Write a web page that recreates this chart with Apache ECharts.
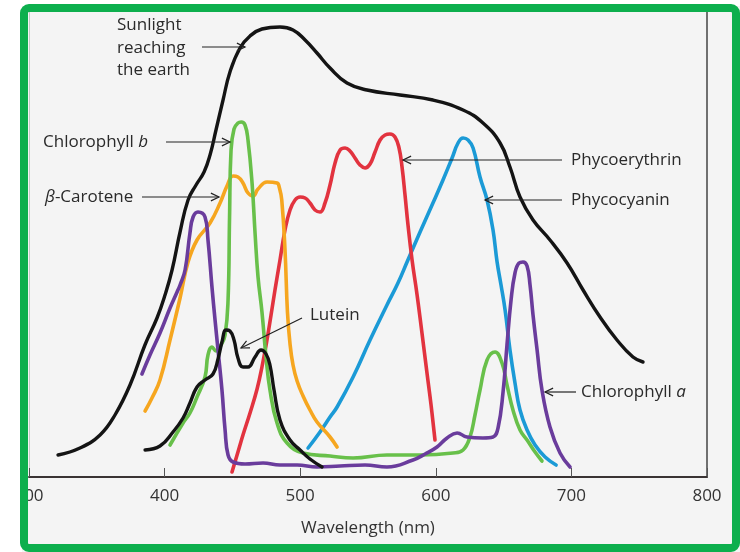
<!DOCTYPE html>
<html>
<head>
<meta charset="utf-8">
<script src="https://cdn.jsdelivr.net/npm/echarts@6/dist/echarts.min.js"></script>
<style>html,body{margin:0;padding:0;background:#fff}#c{width:740px;height:552px}</style>
</head>
<body>
<div id="c"></div>
<script>
// x: wavelength (nm); y: relative intensity / absorbance (arbitrary units)
const xTicks = [300, 400, 500, 600, 700, 800];

const sunlight = [[321.4,22],[337.6,29],[352.4,42],[363.4,62],[374.5,92],[385.5,132],[394.4,159],[400.3,182],[405.5,207],[411.4,245],[417.3,277],[423.2,292],[429.1,305],[433.5,322],[437.9,347],[443.1,377],[448.2,405],[455.6,429],[463.0,441],[471.8,448],[485.1,450],[494.7,447],[503.6,437],[512.4,424],[522.0,409],[534.5,394],[549.3,387],[573.6,382],[597.9,377],[620.1,367],[634.8,354],[647.4,334],[654.7,310],[662.1,280],[671.7,257],[684.2,237],[696.8,214],[708.6,187],[721.1,160],[733.6,137],[745.4,120],[752.8,115]];

const chlorophyllB = [[404.0,32],[413.6,54],[418.7,64],[423.9,80],[429.8,100],[432.0,122],[435.0,130],[437.9,126],[441.6,132],[444.6,142],[446.8,177],[447.9,260],[449.0,327],[451.2,348],[454.1,354],[456.5,355],[459.3,352],[461.5,337],[464.5,294],[466.7,244],[468.9,200],[471.8,165],[474.8,120],[477.7,87],[482.9,54],[490.3,34],[502.1,24],[522.0,21],[539.0,19],[564.0,22],[588.4,22],[612.7,24],[620.1,27],[625.2,40],[628.9,62],[632.6,87],[637.8,117],[643.7,125],[648.8,114],[652.5,92],[656.9,67],[662.1,47],[667.3,37],[673.2,25],[678.3,16]];

const betaCarotene = [[385.6,66],[390.7,79],[396.6,97],[404.0,137],[411.4,179],[417.3,215],[423.9,237],[433.5,254],[440.9,274],[446.0,291],[450.5,301],[454.1,300],[457.8,294],[461.5,284],[465.2,281],[468.9,288],[475.5,295],[482.9,294],[484.7,289],[486.4,277],[488.8,227],[490.6,165],[492.5,133],[494.7,112],[497.7,96],[502.1,81],[507.2,67],[512.4,55],[522.0,40],[527.2,30]];

const chlorophyllA = [[383.3,103],[389.2,122],[396.6,144],[404.0,169],[409.2,185],[411.4,192],[415.1,207],[418.7,244],[421.0,260],[424.6,265],[429.8,260],[432.0,237],[435.0,189],[437.2,157],[439.4,127],[442.3,87],[444.6,47],[446.8,22],[450.5,15],[459.3,13],[472.6,14],[485.1,12],[497.7,12],[512.4,10],[529.4,11],[547.8,12],[564.0,10],[583.2,17],[592.1,23],[600.9,30],[608.3,39],[615.7,44],[623.0,40],[634.8,39],[642.2,40],[645.9,49],[649.6,85],[652.5,132],[655.5,177],[658.4,204],[661.4,214],[664.3,215],[667.3,211],[669.5,192],[671.7,162],[674.7,127],[678.3,87],[684.2,50],[691.6,24],[699.0,10]];

const lutein = [[385.6,27],[396.6,31],[406.2,45],[413.6,59],[418.7,74],[423.9,90],[429.8,97],[435.7,103],[439.4,118],[442.3,135],[445.3,147],[448.2,146],[451.2,137],[454.1,119],[457.8,110],[461.5,110],[466.7,120],[471.1,127],[474.8,123],[477.7,112],[480.7,87],[485.1,57],[492.5,37],[499.9,27],[507.2,18],[516.1,10]];

const phycoerythrin = [[449.7,5],[454.1,25],[457.8,42],[463.0,64],[468.2,88],[471.8,110],[475.5,137],[478.5,162],[481.4,187],[485.1,217],[488.8,247],[492.5,267],[496.2,277],[499.9,280],[503.6,279],[507.2,274],[510.9,267],[514.6,265],[518.3,274],[522.0,292],[525.7,314],[529.4,327],[533.1,329],[536.7,326],[540.4,319],[544.1,312],[547.8,309],[551.5,313],[555.2,325],[558.9,337],[562.6,342],[566.2,343],[569.9,340],[572.9,329],[575.1,310],[577.3,282],[579.5,252],[582.5,217],[586.2,182],[589.8,144],[593.5,104],[596.5,72],[599.4,37]];

const phycocyanin = [[505.8,29],[514.6,45],[522.0,60],[527.2,70],[539.0,100],[551.5,137],[564.0,172],[572.1,194],[578.8,215],[588.4,245],[597.9,274],[605.3,297],[612.0,319],[616.4,334],[620.1,339],[623.8,337],[627.5,329],[632.6,300],[637.8,277],[642.2,247],[645.2,215],[648.1,192],[651.1,167],[654.7,127],[658.4,94],[662.1,67],[667.3,47],[673.2,32],[680.6,20],[688.7,12]];

const FONT = '"Open Sans", "Noto Sans", sans-serif';
const TXT = '#2a2a2a';

function mkSeries(name, data, color, width) {
  return {
    name, type: 'line', data, smooth: 0.45, showSymbol: false, symbol: 'none',
    lineStyle: { color, width: width || 3.6, cap: 'round', join: 'round' },
    emphasis: { disabled: true }, silent: true, clip: false, z: 3
  };
}

function arrow(x1, y1, x2, y2) {
  const a = Math.atan2(y2 - y1, x2 - x1), L = 9, s = 0.45;
  return [
    { type: 'line', z: 50, shape: { x1, y1, x2, y2 }, style: { stroke: '#222', lineWidth: 1.2 } },
    { type: 'polyline', z: 50, shape: { points: [
      [x2 - L * Math.cos(a - s), y2 - L * Math.sin(a - s)], [x2, y2],
      [x2 - L * Math.cos(a + s), y2 - L * Math.sin(a + s)]] },
      style: { stroke: '#222', lineWidth: 1.2, fill: null } }
  ];
}
function label(x, y, text, rich) {
  const st = { text, x, y, fill: TXT, font: '17px ' + FONT, verticalAlign: 'middle', align: 'left' };
  if (rich) {
    st.rich = {
      r: { fontSize: 17, fontFamily: FONT, fill: TXT, fontStyle: 'normal' },
      i: { fontSize: 17, fontFamily: FONT, fill: TXT, fontStyle: 'italic' }
    };
  }
  return { type: 'text', z: 50, style: st };
}

const chart = echarts.init(document.getElementById('c'), null, { renderer: 'canvas' });
chart.setOption({
  animation: false,
  backgroundColor: '#f4f4f4',
  grid: { left: 29, right: 33, top: 12, bottom: 75 },
  xAxis: {
    type: 'value', min: xTicks[0], max: xTicks[xTicks.length - 1], interval: 100,
    axisLine: { show: true, lineStyle: { color: '#3a3434', width: 2 } },
    axisTick: { show: true, inside: true, length: 9, lineStyle: { color: '#555', width: 1 } },
    axisLabel: { fontSize: 17, color: '#333', margin: 11, fontFamily: FONT, showMinLabel: true, showMaxLabel: true },
    splitLine: { show: false },
    name: 'Wavelength (nm)', nameLocation: 'middle', nameGap: 43,
    nameTextStyle: { fontSize: 17, color: '#333', fontFamily: FONT }
  },
  yAxis: [
    { type: 'value', min: 0, max: 465, axisLine: { show: true, lineStyle: { color: '#c9c9c9', width: 1 } },
      axisTick: { show: false }, axisLabel: { show: false }, splitLine: { show: false } },
    { type: 'value', min: 0, max: 465, position: 'right', axisLine: { show: true, lineStyle: { color: '#444', width: 1.5 } },
      axisTick: { show: false }, axisLabel: { show: false }, splitLine: { show: false } }
  ],
  series: [
    mkSeries('Sunlight reaching the earth', sunlight, '#141414', 3.4),
    mkSeries('Phycocyanin', phycocyanin, '#1b9ad6'),
    mkSeries('Phycoerythrin', phycoerythrin, '#e2333f'),
    mkSeries('β-Carotene', betaCarotene, '#f6a61f'),
    mkSeries('Chlorophyll b', chlorophyllB, '#68c04a'),
    mkSeries('Chlorophyll a', chlorophyllA, '#6a3c9c'),
    mkSeries('Lutein', lutein, '#141414', 3.4)
  ],
  graphic: [
    { type: 'text', z: 50, style: { text: 'Sunlight\nreaching\nthe earth', x: 117, y: 14, fill: TXT,
      font: '17px ' + FONT, lineHeight: 22.5, verticalAlign: 'top', align: 'left' } },
    ...arrow(202, 47, 245, 47),
    label(43, 142, '{r|Chlorophyll }{i|b}', true),
    ...arrow(166, 142, 230, 142),
    label(45, 197, '{i|β}{r|-Carotene}', true),
    ...arrow(142, 197, 219, 197),
    label(310, 315, 'Lutein'),
    ...arrow(302, 318, 241, 348),
    label(571, 160, 'Phycoerythrin'),
    ...arrow(562, 160, 403, 160),
    label(571, 200, 'Phycocyanin'),
    ...arrow(562, 200, 485, 200),
    label(581, 392, '{r|Chlorophyll }{i|a}', true),
    ...arrow(576, 392, 545, 392),
    // page surround and green frame
    { type: 'rect', z: 90, shape: { x: 0, y: 0, width: 22, height: 552 }, style: { fill: '#ffffff' } },
    { type: 'rect', z: 90, shape: { x: 0, y: 0, width: 740, height: 6 }, style: { fill: '#ffffff' } },
    { type: 'rect', z: 100, shape: { x: 24, y: 8, width: 712, height: 540, r: 5 },
      style: { fill: null, stroke: '#0daf4d', lineWidth: 8 } }
  ]
});
</script>
</body>
</html>
